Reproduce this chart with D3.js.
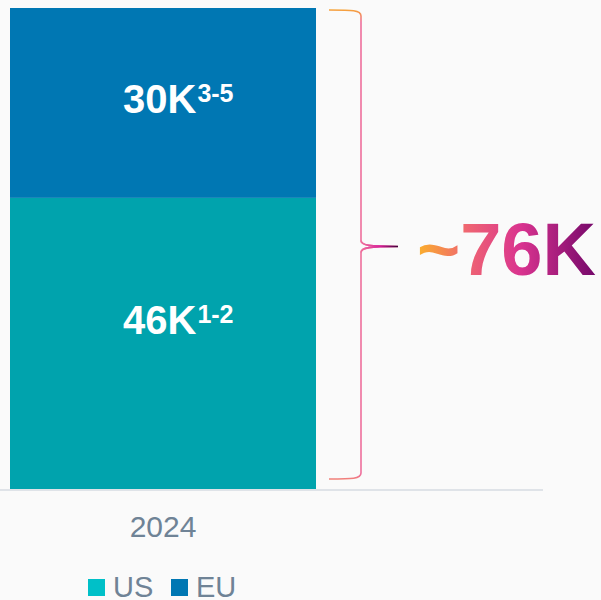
<!DOCTYPE html>
<html lang="en">
<head>
    <meta charset="UTF-8">
    <title>US + EU</title>
    <style>
        body{ margin: 0; background: #fafafa; }
        svg{ display: block; font-family: "Liberation Sans", Arial, sans-serif; }
    </style>
    <script src="https://d3js.org/d3.v7.min.js"></script>
</head>
<body>
    <div id="svg"></div>
    <script>
        const years = ["2024"]
        const series = ["US", "EU"]
        const usValues = [46]
        const euValues = [30]
        const labels = { US: ["46K", "1-2"], EU: ["30K", "3-5"] }
        const totalLabel = "~76K"
        const colors = { US: "#00a3ad", EU: "#0077b3" }
        const legendColors = { US: "#00c0c8", EU: "#0077b3" }

        const { boxWidth, boxHeight } = { boxWidth: 601, boxHeight: 600 }
        const svg = d3.select('#svg').append('svg')
        svg.attr("width", boxWidth).attr('height', boxHeight)

        const rows = years.map((y, i) => ({ year: y, US: usValues[i], EU: euValues[i] }))
        const stacked = d3.stack().keys(series)(rows)

        const xScale = d3.scaleBand().domain(years).range([10, 316]).padding(0)
        const yScale = d3.scaleLinear()
            .domain([0, d3.max(rows, d => d.US + d.EU)])
            .range([489, 8])

        // axis line + tick label
        svg.append("line")
            .attr("x1", 0).attr("x2", 543)
            .attr("y1", 490).attr("y2", 490)
            .attr("stroke", "#dfe3e8").attr("stroke-width", 2)

        const xAxis = d3.axisBottom(xScale).tickSize(0).tickPadding(26)
        const ax = svg.append("g").attr("transform", "translate(0, 490)").call(xAxis)
        ax.select(".domain").remove()
        ax.selectAll("text")
            .attr("font-size", 30).attr("fill", "#6f8396")
            .attr("font-family", "Liberation Sans, Arial, sans-serif")

        // label baseline shift from segment centre
        const labelShift = { US: -9, EU: 10 }

        // bars
        stacked.forEach(s => {
            svg.selectAll(".bar-" + s.key).data(s).enter().append("rect")
                .attr("class", "bar-" + s.key)
                .attr("x", d => xScale(d.data.year))
                .attr("width", xScale.bandwidth())
                .attr("y", d => yScale(d[1]))
                .attr("height", d => yScale(d[0]) - yScale(d[1]))
                .attr("fill", colors[s.key])

            s.forEach(d => {
                const cx = xScale(d.data.year) + xScale.bandwidth() / 2
                const cy = (yScale(d[0]) + yScale(d[1])) / 2
                const t = svg.append("text")
                    .attr("x", cx - 40).attr("y", cy + labelShift[s.key])
                    .attr("fill", "#fff").attr("font-weight", "bold")
                t.append("tspan").attr("font-size", 40).text(labels[s.key][0])
                t.append("tspan").attr("font-size", 25).attr("dx", 1).attr("dy", -11)
                    .text(labels[s.key][1])
            })
        })

        // brace with gradient
        const defs = svg.append("defs")
        const bg = defs.append("linearGradient").attr("id", "braceGrad")
            .attr("gradientUnits", "userSpaceOnUse")
            .attr("x1", 0).attr("y1", yScale(76)).attr("x2", 0).attr("y2", yScale(0))
        bg.append("stop").attr("offset", "0%").attr("stop-color", "#f7a92c")
        bg.append("stop").attr("offset", "3%").attr("stop-color", "#ee6f9c")
        bg.append("stop").attr("offset", "97%").attr("stop-color", "#ee6f9c")
        bg.append("stop").attr("offset", "100%").attr("stop-color", "#f7a92c")

        const braceTop = yScale(76) + 2, braceBot = yScale(0) - 10, mid = (braceTop + braceBot) / 2 + 2
        const bx = 361
        const brace = `M329,${braceTop} C352,${braceTop} 361,${braceTop} ${bx},${braceTop + 6}
            L${bx},${mid - 6} C${bx},${mid - 1} 370,${mid} 398,${mid}
            C370,${mid} ${bx},${mid + 1} ${bx},${mid + 6}
            L${bx},${braceBot - 6} C${bx},${braceBot} 352,${braceBot} 329,${braceBot}`
        svg.append("path").attr("d", brace)
            .attr("fill", "none").attr("stroke", "url(#braceGrad)").attr("stroke-width", 1.6)

        const tg = defs.append("linearGradient").attr("id", "tipGrad")
            .attr("gradientUnits", "userSpaceOnUse")
            .attr("x1", 362).attr("y1", 0).attr("x2", 398).attr("y2", 0)
        tg.append("stop").attr("offset", "0%").attr("stop-color", "#ee6f9c")
        tg.append("stop").attr("offset", "50%").attr("stop-color", "#d6209a")
        tg.append("stop").attr("offset", "100%").attr("stop-color", "#3c0038")
        svg.append("path")
            .attr("d", `M${bx},${mid - 6} C${bx},${mid - 1} 370,${mid} 398,${mid} C370,${mid} ${bx},${mid + 1} ${bx},${mid + 6}`)
            .attr("fill", "none").attr("stroke", "url(#tipGrad)").attr("stroke-width", 1.6)

        // total text
        const txg = defs.append("linearGradient").attr("id", "txtGrad")
            .attr("gradientUnits", "userSpaceOnUse")
            .attr("x1", 417).attr("y1", 0).attr("x2", 596).attr("y2", 0)
        txg.append("stop").attr("offset", "0%").attr("stop-color", "#fbb02a")
        txg.append("stop").attr("offset", "28%").attr("stop-color", "#ef6572")
        txg.append("stop").attr("offset", "58%").attr("stop-color", "#d9338f")
        txg.append("stop").attr("offset", "100%").attr("stop-color", "#74086a")
        svg.append("text").attr("x", 417).attr("y", 275)
            .attr("font-size", 74).attr("font-weight", "bold")
            .attr("fill", "url(#txtGrad)").text(totalLabel)

        // legend
        const legend = svg.append("g").attr("transform", "translate(88, 579)")
        const lx = [0, 83]
        series.forEach((k, i) => {
            const g = legend.append("g").attr("transform", `translate(${lx[i]}, 0)`)
            g.append("rect").attr("width", 17).attr("height", 17).attr("fill", legendColors[k])
            g.append("text").attr("x", 25).attr("y", 18)
                .attr("font-size", 29).attr("fill", "#6f8396").text(k)
        })
    </script>
</body>
</html>
